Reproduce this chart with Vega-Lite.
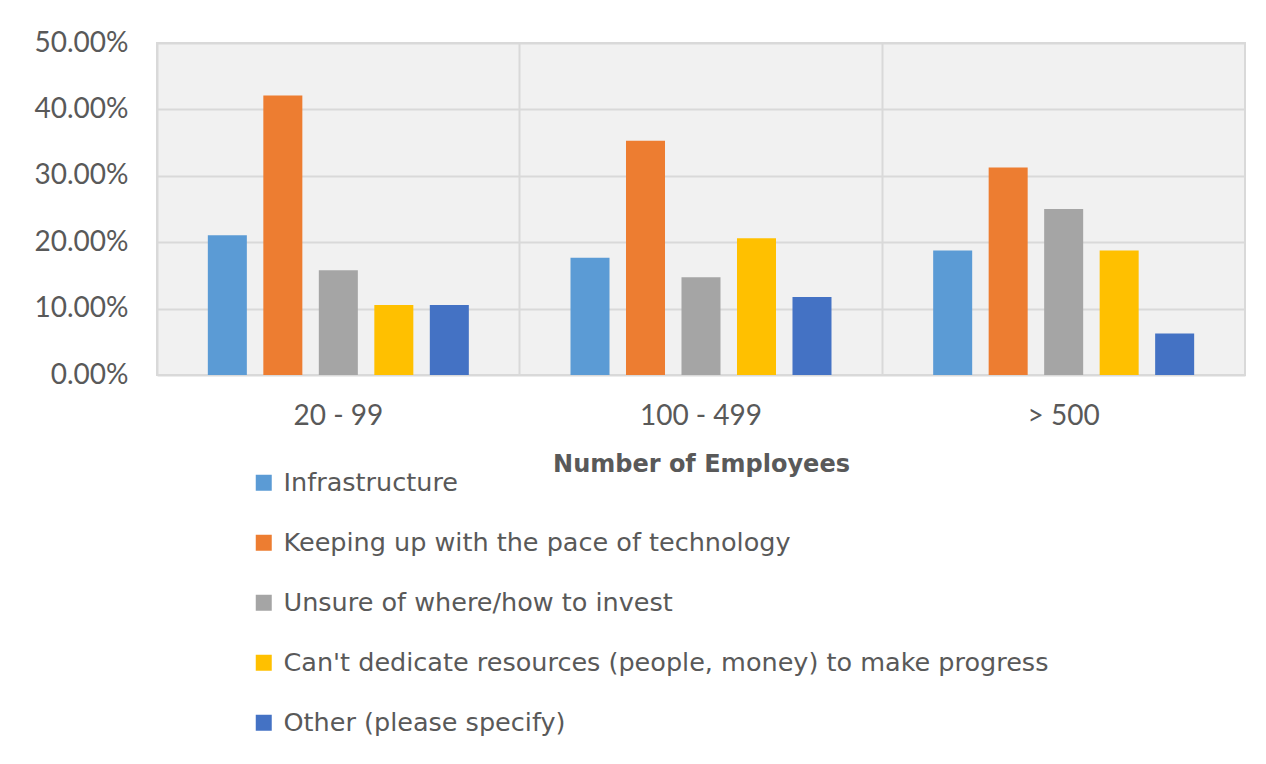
{
  "$schema": "https://vega.github.io/schema/vega-lite/v6.json",
  "width": 1088,
  "height": 332,
  "autosize": {"type": "none"},
  "padding": {"left": 157, "top": 43, "right": 21, "bottom": 389},
  "background": "white",
  "data": {
    "values": [
      {"employees": "20 - 99", "challenge": "Infrastructure", "share": 0.2105},
      {"employees": "20 - 99", "challenge": "Keeping up with the pace of technology", "share": 0.4211},
      {"employees": "20 - 99", "challenge": "Unsure of where/how to invest", "share": 0.1579},
      {"employees": "20 - 99", "challenge": "Can't dedicate resources (people, money) to make progress", "share": 0.1053},
      {"employees": "20 - 99", "challenge": "Other (please specify)", "share": 0.1053},
      {"employees": "100 - 499", "challenge": "Infrastructure", "share": 0.1765},
      {"employees": "100 - 499", "challenge": "Keeping up with the pace of technology", "share": 0.3529},
      {"employees": "100 - 499", "challenge": "Unsure of where/how to invest", "share": 0.1471},
      {"employees": "100 - 499", "challenge": "Can't dedicate resources (people, money) to make progress", "share": 0.2059},
      {"employees": "100 - 499", "challenge": "Other (please specify)", "share": 0.1176},
      {"employees": "> 500", "challenge": "Infrastructure", "share": 0.1875},
      {"employees": "> 500", "challenge": "Keeping up with the pace of technology", "share": 0.3125},
      {"employees": "> 500", "challenge": "Unsure of where/how to invest", "share": 0.25},
      {"employees": "> 500", "challenge": "Can't dedicate resources (people, money) to make progress", "share": 0.1875},
      {"employees": "> 500", "challenge": "Other (please specify)", "share": 0.0625}
    ]
  },
  "mark": {"type": "bar"},
  "encoding": {
    "x": {
      "field": "employees",
      "type": "nominal",
      "sort": ["20 - 99", "100 - 499", "> 500"],
      "scale": {"paddingInner": 0, "paddingOuter": 0},
      "axis": {
        "title": "Number of Employees",
        "labelAngle": 0,
        "ticks": false,
        "domain": false,
        "grid": true,
        "bandPosition": 0,
        "gridColor": "#d9d9d9",
        "gridWidth": 2,
        "labelFont": "Lato",
        "labelFontSize": 28,
        "labelColor": "#595959",
        "labelPadding": 27,
        "titleFont": "DejaVu Sans",
        "titleFontSize": 24,
        "titleFontWeight": "bold",
        "titleColor": "#595959",
        "titlePadding": 22
      }
    },
    "xOffset": {
      "field": "challenge",
      "type": "nominal",
      "sort": ["Infrastructure", "Keeping up with the pace of technology", "Unsure of where/how to invest", "Can't dedicate resources (people, money) to make progress", "Other (please specify)"],
      "scale": {"paddingInner": 0.297, "paddingOuter": 0.916}
    },
    "y": {
      "field": "share",
      "type": "quantitative",
      "scale": {"domain": [0, 0.5]},
      "axis": {
        "title": null,
        "values": [0, 0.1, 0.2, 0.3, 0.4, 0.5],
        "format": ".2%",
        "ticks": false,
        "domain": false,
        "gridColor": "#d9d9d9",
        "gridWidth": 2,
        "labelFont": "Lato",
        "labelFontSize": 28,
        "labelColor": "#595959",
        "labelPadding": 29
      }
    },
    "color": {
      "field": "challenge",
      "type": "nominal",
      "sort": ["Infrastructure", "Keeping up with the pace of technology", "Unsure of where/how to invest", "Can't dedicate resources (people, money) to make progress", "Other (please specify)"],
      "scale": {
        "domain": ["Infrastructure", "Keeping up with the pace of technology", "Unsure of where/how to invest", "Can't dedicate resources (people, money) to make progress", "Other (please specify)"],
        "range": ["#5B9BD5", "#ED7D31", "#A5A5A5", "#FFC000", "#4472C4"]
      },
      "legend": {
        "title": null,
        "orient": "none",
        "legendX": 94,
        "legendY": 427,
        "direction": "vertical",
        "symbolType": "square",
        "symbolSize": 256,
        "symbolStrokeWidth": 0,
        "labelFont": "DejaVu Sans",
        "labelFontSize": 25.5,
        "labelColor": "#595959",
        "labelOffset": 7,
        "labelLimit": 1000,
        "rowPadding": 33
      }
    }
  },
  "config": {
    "view": {"stroke": "#d9d9d9", "strokeWidth": 2, "fill": "#f1f1f1"}
  }
}
